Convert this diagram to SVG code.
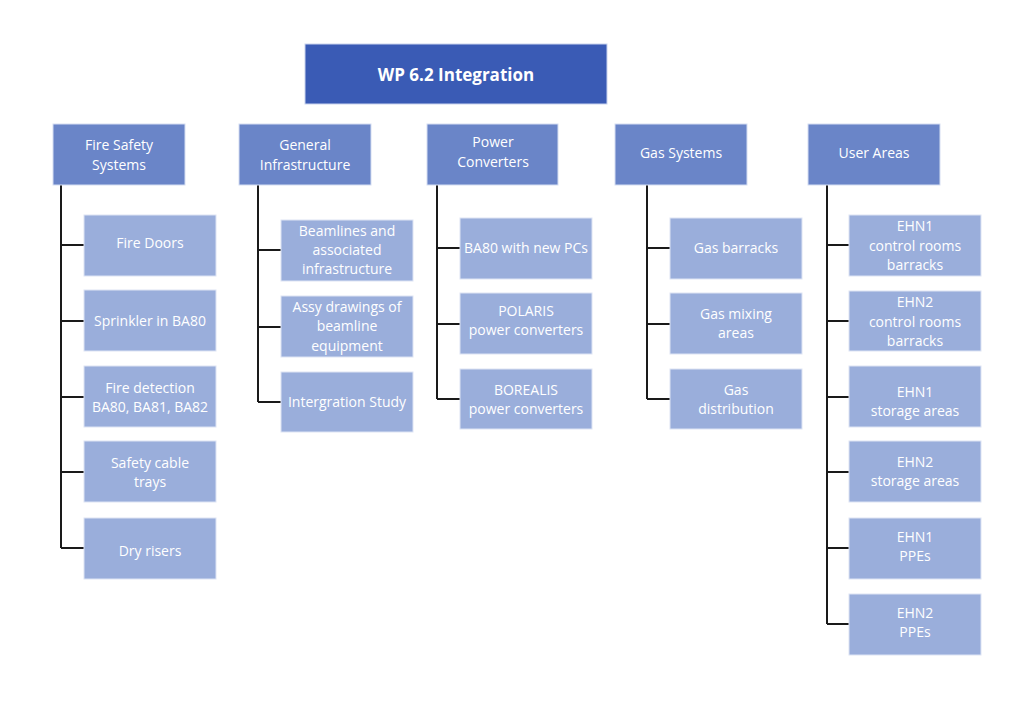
<svg xmlns="http://www.w3.org/2000/svg" width="1024" height="708" viewBox="0 0 1024 708">
<style>
.t{fill:#3a5bb5;stroke:#c9d4ee;stroke-width:1}
.h{fill:#6a85c8;stroke:#d5def2;stroke-width:1}
.c{fill:#9aaedb;stroke:#dde4f4;stroke-width:1}
text{font-family:"Open Sans","Liberation Sans",sans-serif;fill:#fff;text-anchor:middle;font-size:14px}
.tt{font-weight:bold;font-size:17px}
.ln{stroke:#1a1a1a;stroke-width:2;fill:none}
</style>
<rect width="1024" height="708" fill="#fff"/>
<g id="connectors">
<path class="ln" d="M61 185V548M61 245H84M61 321H84M61 397H84M61 472H84M61 548H84"/>
<path class="ln" d="M258 185V402M258 250H281M258 327H281M258 402H281"/>
<path class="ln" d="M437 185V399M437 248H460M437 324H460M437 399H460"/>
<path class="ln" d="M647 185V399M647 248H670M647 324H670M647 399H670"/>
<path class="ln" d="M827 185V624M827 245H849M827 321H849M827 397H849M827 472H849M827 548H849M827 624H849"/>
</g>
<g id="root"><rect class="t" x="305" y="44" width="302" height="60"/><text class="tt" x="456" y="81">WP 6.2 Integration</text></g>
<g id="fire"><rect class="h" x="53" y="124" width="132" height="61"/><text x="119" y="150">Fire Safety</text><text x="119" y="170">Systems</text></g>
<g id="general"><rect class="h" x="239" y="124" width="132" height="61"/><text x="305" y="150">General</text><text x="305" y="170">Infrastructure</text></g>
<g id="power"><rect class="h" x="427" y="124" width="131" height="61"/><text x="493" y="147">Power</text><text x="493" y="167">Converters</text></g>
<g id="gas"><rect class="h" x="615" y="124" width="132" height="61"/><text x="681" y="158">Gas Systems</text></g>
<g id="user"><rect class="h" x="808" y="124" width="132" height="61"/><text x="874" y="158">User Areas</text></g>

<g id="fire-doors"><rect class="c" x="84" y="215" width="132" height="61"/><text x="150" y="248">Fire Doors</text></g>
<g id="sprinkler"><rect class="c" x="84" y="290" width="132" height="61"/><text x="150" y="326">Sprinkler in BA80</text></g>
<g id="fire-detection"><rect class="c" x="84" y="366" width="132" height="61"/><text x="150" y="393">Fire detection</text><text x="150" y="412">BA80, BA81, BA82</text></g>
<g id="safety-cable"><rect class="c" x="84" y="441" width="132" height="61"/><text x="150" y="468">Safety cable</text><text x="150" y="487">trays</text></g>
<g id="dry-risers"><rect class="c" x="84" y="518" width="132" height="61"/><text x="150" y="556">Dry risers</text></g>

<g id="beamlines"><rect class="c" x="281" y="220" width="132" height="61"/><text x="347" y="236">Beamlines and</text><text x="347" y="255">associated</text><text x="347" y="274">infrastructure</text></g>
<g id="assy"><rect class="c" x="281" y="296" width="132" height="61"/><text x="347" y="312">Assy drawings of</text><text x="347" y="331">beamline</text><text x="347" y="351">equipment</text></g>
<g id="integration-study"><rect class="c" x="281" y="372" width="132" height="60"/><text x="347" y="407">Intergration Study</text></g>

<g id="ba80-pcs"><rect class="c" x="460" y="218" width="132" height="61"/><text x="526" y="253">BA80 with new PCs</text></g>
<g id="polaris"><rect class="c" x="460" y="293" width="132" height="61"/><text x="526" y="316">POLARIS</text><text x="526" y="335">power converters</text></g>
<g id="borealis"><rect class="c" x="460" y="369" width="132" height="60"/><text x="526" y="395">BOREALIS</text><text x="526" y="414">power converters</text></g>

<g id="gas-barracks"><rect class="c" x="670" y="218" width="132" height="61"/><text x="736" y="253">Gas barracks</text></g>
<g id="gas-mixing"><rect class="c" x="670" y="293" width="132" height="61"/><text x="736" y="319">Gas mixing</text><text x="736" y="338">areas</text></g>
<g id="gas-distribution"><rect class="c" x="670" y="369" width="132" height="60"/><text x="736" y="395">Gas</text><text x="736" y="414">distribution</text></g>

<g id="ehn1-control"><rect class="c" x="849" y="215" width="132" height="61"/><text x="915" y="231">EHN1</text><text x="915" y="251">control rooms</text><text x="915" y="270">barracks</text></g>
<g id="ehn2-control"><rect class="c" x="849" y="291" width="132" height="60"/><text x="915" y="307">EHN2</text><text x="915" y="327">control rooms</text><text x="915" y="346">barracks</text></g>
<g id="ehn1-storage"><rect class="c" x="849" y="366" width="132" height="61"/><text x="915" y="397">EHN1</text><text x="915" y="416">storage areas</text></g>
<g id="ehn2-storage"><rect class="c" x="849" y="441" width="132" height="61"/><text x="915" y="467">EHN2</text><text x="915" y="486">storage areas</text></g>
<g id="ehn1-ppe"><rect class="c" x="849" y="518" width="132" height="61"/><text x="915" y="542">EHN1</text><text x="915" y="561">PPEs</text></g>
<g id="ehn2-ppe"><rect class="c" x="849" y="594" width="132" height="61"/><text x="915" y="618">EHN2</text><text x="915" y="637">PPEs</text></g>
</svg>
